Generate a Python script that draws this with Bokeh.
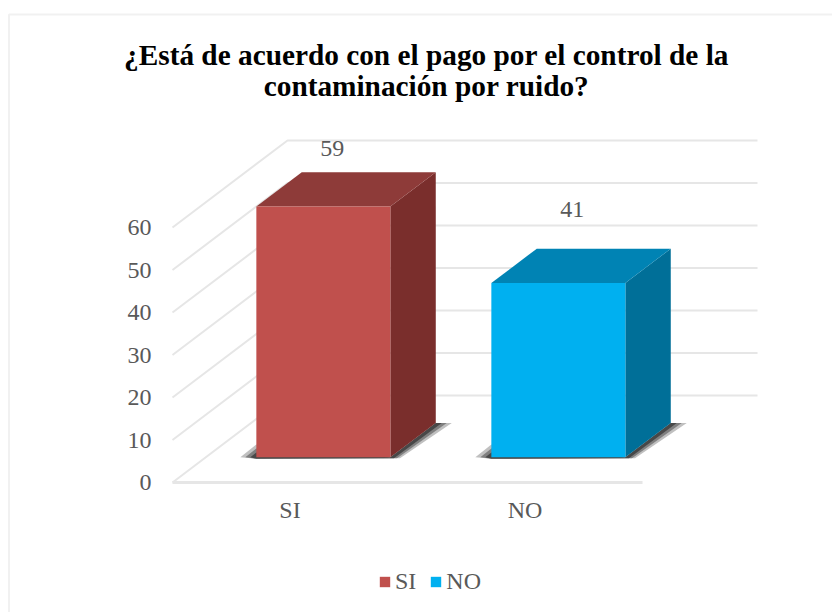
from bokeh.plotting import figure
from bokeh.embed import file_html
from bokeh.resources import INLINE
from bokeh.models import FixedTicker, Range1d, BoxAnnotation, Legend, LegendItem, Label
from bokeh.core.properties import value

categories = ["SI", "NO"]
values = [59, 41]
y_ticks = [0, 10, 20, 30, 40, 50, 60]
title_lines = ["¿Está de acuerdo con el pago por el control de la", "contaminación por ruido?"]

front = ["#C0504D", "#00B0F0"]
top = ["#8E3B39", "#0083B4"]
side = ["#7A2E2C", "#006F98"]
grid = "#E6E6E6"
ink = "#595959"
FONT = "Liberation Serif"

W, H = 832, 612
X0, Y0 = 172, 482              # picture position of the box's front-left floor corner
PX_X, PX_Y = 235.0, 4.25       # pixels per category / per value unit
DX, DY = 115 / PX_X, 87 / PX_Y  # depth of the 3D box
Z0, Z1 = 0.29, 0.685           # bar depth in the box
BAR_W = 134 / PX_X
LABEL_NUDGE = [(9, 58), (14, 74)]


def sx(px):
    return (px - X0) / PX_X


def sy(py):
    return (Y0 - py) / PX_Y


def proj(x, y, z):
    return x + z * DX, y + z * DY


p = figure(width=W, height=H, output_backend="svg", toolbar_location=None,
           min_border_left=0, min_border_right=0, min_border_bottom=0, min_border_top=0,
           x_range=Range1d(sx(0), sx(W)), y_range=Range1d(sy(H), sy(0)))
p.outline_line_color = None
p.grid.visible = False

p.add_layout(BoxAnnotation(left=sx(8.5), right=sx(W + 9), top=sy(14), bottom=sy(H + 9), fill_color=None,
                           line_color="#CFCFCF", line_width=2, level="underlay"))

for line, py in zip(title_lines, (54.5, 85.5)):
    p.add_layout(Label(x=sx(426), y=sy(py), text=line, text_font=FONT, text_font_size="29.3px",
                       text_font_style="bold", text_color="#000000", text_align="center",
                       text_baseline="middle"))

xn = len(categories)
for t in y_ticks:
    a, b = proj(0, t, 0), proj(0, t, 1)
    c = proj(xn, t, 1)
    p.line([a[0], b[0], c[0]], [a[1], b[1], c[1]], line_color=grid, line_width=2)
a, b = proj(0, 0, 0), proj(xn, 0, 0)
p.line([a[0], b[0]], [a[1], b[1]], line_color=grid, line_width=3)

legend_items = []
for i, (cat, v) in enumerate(zip(categories, values)):
    xc = i + 0.5
    x0, x1 = xc - BAR_W / 2, xc + BAR_W / 2
    fl, fr = proj(x0, 0, Z0), proj(x1, 0, Z0)
    bl, br = proj(x0, 0, Z1), proj(x1, 0, Z1)
    tfl, tfr = proj(x0, v, Z0), proj(x1, v, Z0)
    tbl, tbr = proj(x0, v, Z1), proj(x1, v, Z1)

    u = 1 / PX_X
    w = 1 / PX_Y
    for spread, alpha in ((16, .3), (11, .45), (6, .7)):
        xs = [fl[0] - spread * u, fl[0], fr[0], br[0], br[0] + spread * u, fr[0] + spread * .6 * u, fl[0]]
        ys = [fl[1], fl[1] + spread * w * .8, fr[1], br[1], br[1], fr[1] - 1 * w, fl[1] - 1.5 * w]
        p.patch(xs, ys, fill_color="#303030", fill_alpha=alpha, line_color=None)

    p.patch([tfr[0], tbr[0], br[0], fr[0]], [tfr[1], tbr[1], br[1], fr[1]], fill_color=side[i], line_color=None)
    p.patch([tfl[0], tbl[0], tbr[0], tfr[0]], [tfl[1], tbl[1], tbr[1], tfr[1]], fill_color=top[i], line_color=None)
    r = p.patch([fl[0], fr[0], tfr[0], tfl[0]], [fl[1], fr[1], tfr[1], tfl[1]], fill_color=front[i], line_color=None)
    legend_items.append(LegendItem(label=cat, renderers=[r]))

    nx, ny = LABEL_NUDGE[i]
    p.text([(fl[0] + fr[0]) / 2], [tfl[1]], text=[str(v)], x_offset=nx, y_offset=-ny,
           text_font=value(FONT), text_font_size="24px", text_color=ink,
           text_align="center", text_baseline="middle")

ax = p.yaxis[0]
ax.ticker = FixedTicker(ticks=y_ticks)
ax.fixed_location = 0
ax.major_label_standoff = 15
ax.axis_line_color = None
ax.major_tick_line_color = None
ax.minor_tick_line_color = None
ax.major_label_text_font = FONT
ax.major_label_text_font_size = "24px"
ax.major_label_text_color = ink

bx = p.xaxis[0]
bx.ticker = FixedTicker(ticks=[i + 0.5 for i in range(xn)])
bx.major_label_overrides = {i + 0.5: c for i, c in enumerate(categories)}
bx.fixed_location = 0
bx.major_label_standoff = 8
bx.axis_line_color = None
bx.major_tick_line_color = None
bx.minor_tick_line_color = None
bx.major_label_text_font = FONT
bx.major_label_text_font_size = "24px"
bx.major_label_text_color = ink

leg = Legend(items=legend_items, orientation="horizontal", location=(378, 17), background_fill_alpha=0,
             border_line_color=None, glyph_width=13, glyph_height=13, label_text_font=FONT,
             label_text_font_size="24px", label_text_color=ink, spacing=13, padding=4, label_standoff=4,
             margin=0)
p.add_layout(leg, "center")

open("out.html", "w").write(file_html(p, INLINE))
